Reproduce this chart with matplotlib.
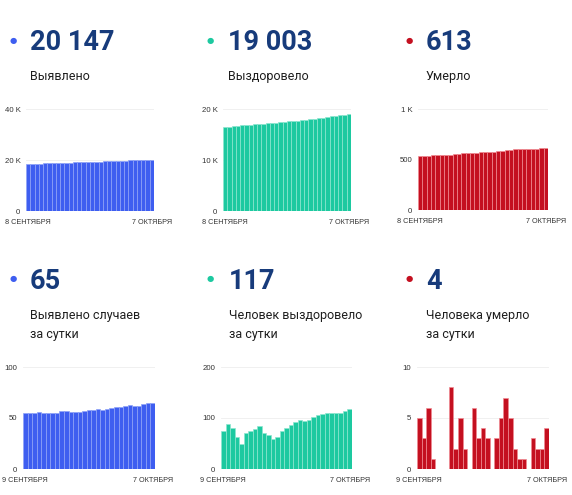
import matplotlib
matplotlib.use("Agg")
import matplotlib.pyplot as plt
import numpy as np

plt.rcParams['font.family'] = ['Roboto', 'DejaVu Sans']

W, H = 572, 495

# cumulative, 8 Sept - 7 Oct
confirmed = [18450, 18505, 18560, 18615, 18671, 18726, 18781, 18836, 18891, 18948,
             19005, 19061, 19117, 19173, 19230, 19288, 19346, 19405, 19463, 19522,
             19582, 19643, 19704, 19766, 19829, 19891, 19953, 20017, 20082, 20147]
recovered = [16477, 16552, 16640, 16720, 16782, 16832, 16902, 16977, 17055, 17140,
             17210, 17277, 17335, 17397, 17472, 17552, 17638, 17730, 17827, 17922,
             18019, 18120, 18225, 18333, 18443, 18552, 18662, 18772, 18886, 19003]
deaths = [530, 535, 538, 544, 545, 545, 545, 545, 553, 555,
          560, 562, 562, 568, 571, 575, 578, 578, 581, 586,
          593, 598, 600, 601, 602, 602, 605, 607, 609, 613]

# daily, 9 Sept - 7 Oct
new_cases = [55, 55, 55, 56, 55, 55, 55, 55, 57, 57, 56, 56, 56, 57, 58,
             58, 59, 58, 59, 60, 61, 61, 62, 63, 62, 62, 64, 65, 65]
new_recovered = [75, 88, 80, 62, 50, 70, 75, 78, 85, 70, 67, 58, 62, 75, 80,
                 86, 92, 97, 95, 97, 101, 105, 108, 110, 109, 110, 110, 114, 117]
new_deaths = [5, 3, 6, 1, 0, 0, 0, 8, 2, 5, 2, 0, 6, 3, 4,
              3, 0, 3, 5, 7, 5, 2, 1, 1, 0, 3, 2, 2, 4]

BLUE = '#3e5ef0'
TEAL = '#1dc9a0'
RED = '#c41020'
NAVY = '#173b7b'
TICKFONT = ['Liberation Sans', 'DejaVu Sans']

fig = plt.figure(figsize=(W / 100, H / 100), dpi=100)


def px_axes(x0, y0, x1, y1):
    return fig.add_axes([x0 / W, 1 - y1 / H, (x1 - x0) / W, (y1 - y0) / H])


def header(x_dot, x_num, y_num, number, lines, color):
    fig.text((x_dot) / W, 1 - (y_num - 10) / H, '\u25cf', color=color,
             fontsize=6, ha='center', va='center', family=['DejaVu Sans'])
    fig.text(x_num / W, 1 - y_num / H, number, color=NAVY, fontsize=19.5,
             fontweight='bold', ha='left', va='baseline')
    for i, ln in enumerate(lines):
        fig.text(x_num / W, 1 - (y_num + 30 + 19 * i) / H, ln, color='#1e1e1e',
                 fontsize=9, ha='left', va='baseline')


def bars(box, values, color, edge, ymax, yticks, ylabels, xlabels):
    ax = px_axes(*box)
    x = np.arange(len(values))
    ax.bar(x, values, width=1.0, color=color, edgecolor=edge, linewidth=0.5, zorder=2)
    ax.set_xlim(-0.5, len(values) - 0.5)
    ax.set_ylim(0, ymax)
    ax.set_yticks(yticks)
    ax.set_yticklabels(ylabels, family=TICKFONT, fontsize=5.6)
    ax.set_xticks([0, len(values) - 1])
    ax.set_xticklabels(xlabels, family=TICKFONT, fontsize=5.2)
    ax.grid(axis='y', color='#eeeeee', linewidth=0.6, zorder=0)
    for s in ax.spines.values():
        s.set_visible(False)
    ax.tick_params(length=0, labelcolor='#333333')
    ax.tick_params(axis='y', pad=4)
    ax.tick_params(axis='x', pad=6)
    return ax


header(13, 30, 50, '20 147', ['Выявлено'], BLUE)
header(210, 228, 50, '19 003', ['Выздоровело'], TEAL)
header(409, 426, 50, '613', ['Умерло'], RED)

header(13, 30, 289, '65', ['Выявлено случаев', 'за сутки'], BLUE)
header(210, 229, 289, '117', ['Человек выздоровело', 'за сутки'], TEAL)
header(409, 426, 289, '4', ['Человека умерло', 'за сутки'], RED)

top_x = ['8 СЕНТЯБРЯ', '7 ОКТЯБРЯ']
bot_x = ['9 СЕНТЯБРЯ', '7 ОКТЯБРЯ']

bars((26, 109, 154, 211), confirmed, BLUE, '#8fa3f7', 40000,
     [0, 20000, 40000], ['0', '20 K', '40 K'], top_x)
bars((223, 109, 351, 211), recovered, TEAL, '#8ee6cf', 20000,
     [0, 10000, 20000], ['0', '10 K', '20 K'], top_x)
bars((418, 109, 548, 210), deaths, RED, '#f08a92', 1000,
     [0, 500, 1000], ['0', '500', '1 K'], top_x)

bars((23, 367, 155, 469), new_cases, BLUE, '#8fa3f7', 100,
     [0, 50, 100], ['0', '50', '100'], bot_x)
bars((221, 367, 352, 469), new_recovered, TEAL, '#8ee6cf', 200,
     [0, 100, 200], ['0', '100', '200'], bot_x)
bars((417, 367, 549, 469), new_deaths, RED, '#f08a92', 10,
     [0, 5, 10], ['0', '5', '10'], bot_x)

fig.savefig('out.png', dpi=100)
